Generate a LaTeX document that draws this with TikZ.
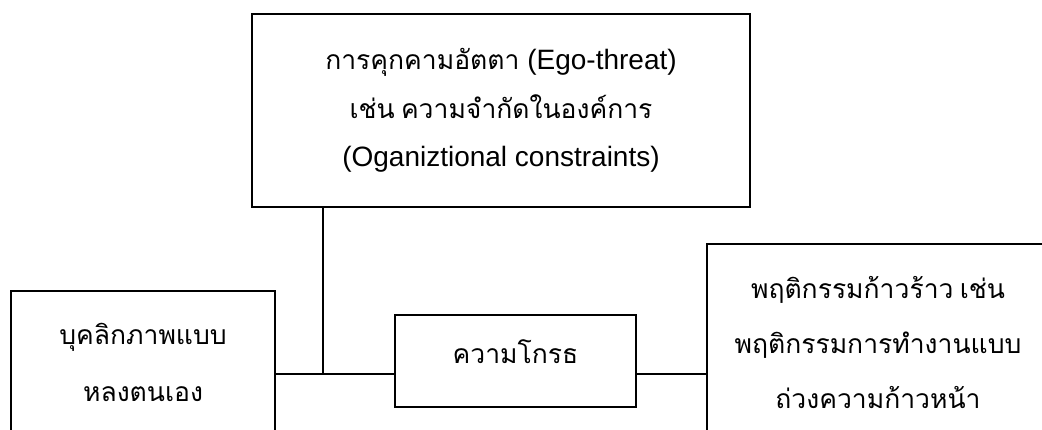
\documentclass[tikz,border=0pt]{standalone}
\usepackage{fontspec}
\setmainfont{Liberation Sans}
\newfontfamily\thaifont[Script=Thai,WordSpace=0.7]{Loma}
\newcommand\thx[1]{{\thaifont\fontsize{26.5}{48}\selectfont #1}}
\begin{document}
\begin{tikzpicture}[x=1pt,y=-1pt,
  box/.style={draw=black,line width=1.6pt,rectangle,inner sep=0pt,align=center},
  conn/.style={draw=black,line width=1.6pt}]
\useasboundingbox (0,0) rectangle (1042,430);
\clip (0,0) rectangle (1042,430);
\node[box,minimum width=498pt,minimum height=193pt,font=\fontsize{28}{48.5}\selectfont] (top) at (501,110.5)
  {\thx{การคุกคามอัตตา} (Ego-threat)\\ \thx{เช่น ความจำกัดในองค์การ}\\ (Oganiztional constraints)};
\node[box,minimum width=264pt,minimum height=142pt,font=\fontsize{28}{57}\selectfont] (left) at (143,362)
  {\thx{บุคลิกภาพแบบ}\\ \thx{หลงตนเอง}};
\node[box,minimum width=241pt,minimum height=92pt,text height=22pt,text depth=18pt,font=\fontsize{28}{48}\selectfont] (mid) at (515.5,361)
  {\thx{ความโกรธ}};
\node[box,minimum width=342pt,minimum height=198pt,font=\fontsize{28}{55}\selectfont] (right) at (878,343)
  {\thx{พฤติกรรมก้าวร้าว เช่น}\\ \thx{พฤติกรรมการทำงานแบบ}\\ \thx{ถ่วงความก้าวหน้า}};
\coordinate (J) at (323,374);
\draw[conn] (top.south -| J) -- (J);
\draw[conn] (left.east |- J) -- (mid.west |- J);
\draw[conn] (mid.east |- J) -- (right.west |- J);
\end{tikzpicture}
\end{document}
